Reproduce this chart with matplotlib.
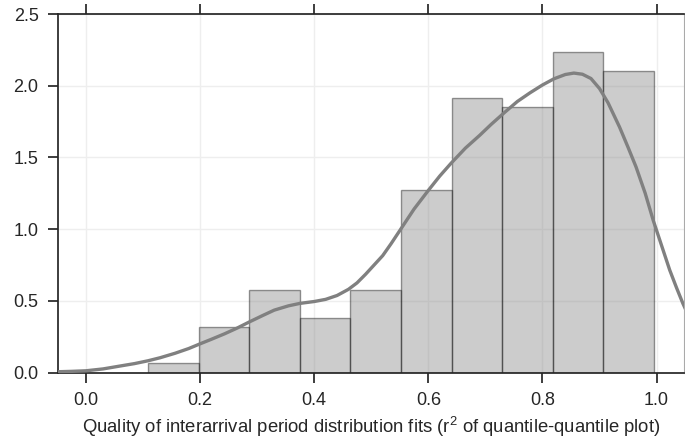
import matplotlib
matplotlib.use("Agg")
import matplotlib.pyplot as plt
import numpy as np

# Histogram of r^2 values (density-normalised), 10 equal bins
bin_edges = [0.109, 0.1976, 0.2862, 0.3748, 0.4634, 0.552, 0.6406, 0.7292, 0.8178, 0.9064, 0.995]
densities = [0.064, 0.319, 0.574, 0.383, 0.574, 1.276, 1.914, 1.85, 2.233, 2.105]

# Kernel density estimate of the same values
kde_x = [-0.06, -0.025, 0.0, 0.03, 0.0625, 0.085, 0.109, 0.13, 0.156, 0.18, 0.2,
         0.22, 0.243, 0.265, 0.287, 0.31, 0.33, 0.355, 0.375, 0.40, 0.42, 0.44,
         0.46, 0.475, 0.49, 0.505, 0.52, 0.535, 0.55, 0.575, 0.60, 0.62, 0.64,
         0.665, 0.69, 0.71, 0.734, 0.756, 0.778, 0.80, 0.82, 0.84, 0.855, 0.87,
         0.885, 0.90, 0.915, 0.935, 0.95, 0.964, 0.98, 0.994, 1.01, 1.023, 1.035,
         1.046, 1.06]
kde_y = [0.004, 0.008, 0.012, 0.025, 0.047, 0.062, 0.082, 0.103, 0.134, 0.167, 0.2,
         0.232, 0.27, 0.31, 0.354, 0.398, 0.435, 0.465, 0.482, 0.495, 0.51, 0.537,
         0.58, 0.625, 0.685, 0.75, 0.815, 0.90, 0.99, 1.14, 1.27, 1.37, 1.46,
         1.565, 1.654, 1.73, 1.815, 1.89, 1.95, 2.005, 2.048, 2.078, 2.088, 2.08,
         2.05, 1.98, 1.88, 1.712, 1.57, 1.433, 1.25, 1.062, 0.87, 0.714, 0.59,
         0.482, 0.36]

x_ticks = [0.0, 0.2, 0.4, 0.6, 0.8, 1.0]
y_ticks = [0.0, 0.5, 1.0, 1.5, 2.0, 2.5]
x_label = r"Quality of interarrival period distribution fits (r$^2$ of quantile-quantile plot)"

plt.rcParams["font.family"] = ["Liberation Sans", "DejaVu Sans"]
plt.rcParams["mathtext.default"] = "regular"

fig = plt.figure(figsize=(6.85, 4.43), dpi=100)
ax = fig.add_axes([58 / 685, 70.5 / 443, 626 / 685, 358.5 / 443])

widths = np.diff(bin_edges)
ax.bar(bin_edges[:-1], densities, width=widths, align="edge",
       facecolor="gray", edgecolor="black", linewidth=1.0, alpha=0.4, zorder=2)
ax.plot(kde_x, kde_y, color="gray", linewidth=2.4, zorder=3,
        solid_capstyle="round", solid_joinstyle="round")

ax.set_xlim(-0.049, 1.048)
ax.set_ylim(0, 2.5)
ax.set_xticks(x_ticks)
ax.set_yticks(y_ticks)
ax.set_xticklabels([f"{v:.1f}" for v in x_ticks])
ax.set_yticklabels([f"{v:.1f}" for v in y_ticks])
ax.set_xlabel(x_label, fontsize=13.3, color="#262626", labelpad=4)

ax.grid(True, color="#eeeeee", linewidth=1.0, zorder=0)
ax.set_axisbelow(True)

for side in ("left", "top", "bottom"):
    ax.spines[side].set_color("#262626")
    ax.spines[side].set_linewidth(1.25)
ax.spines["right"].set_color("#aaaaaa")
ax.spines["right"].set_linewidth(0.8)

ax.tick_params(axis="x", which="both", direction="out", length=7, width=1.25,
               color="#262626", labelsize=13, labelcolor="#262626", pad=7,
               top=True, bottom=True, labeltop=False)
ax.tick_params(axis="y", which="both", direction="out", length=7, width=1.25,
               color="#262626", labelsize=13, labelcolor="#262626", pad=7,
               left=True, right=False)

fig.savefig("out.png", dpi=100)
